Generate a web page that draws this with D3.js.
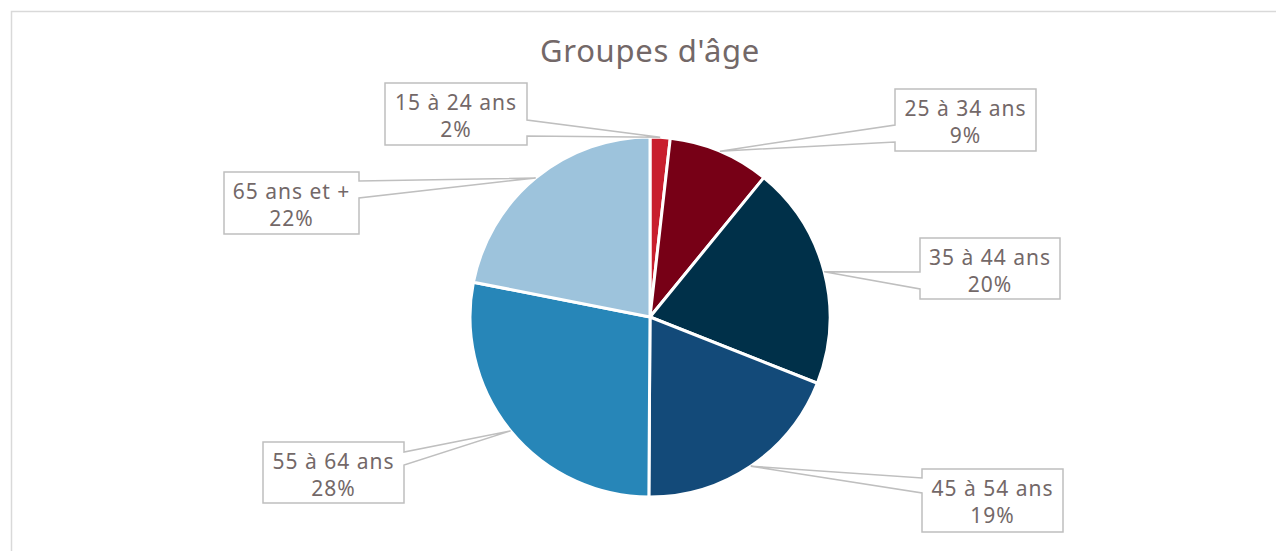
<!DOCTYPE html>
<html>
<head>
<meta charset="utf-8">
<script src="https://cdn.jsdelivr.net/npm/d3@7"></script>
<style>
	body{margin:0;background:#fff;}
	svg{display:block;}
</style>
</head>
<body>
<div id="chart"></div>
<script>
// data
var categories=["15 à 24 ans","25 à 34 ans","35 à 44 ans","45 à 54 ans","55 à 64 ans","65 ans et +"];
var values=[1.8,9.1,20.1,19.1,28,21.9];
var colors=["#c81f2e","#770016","#003049","#134a79","#2786b8","#9dc3dc"];

// label boxes placed by hand, like the original chart: box + side of the pointer
var boxes=[
	{x:385,y:83,w:142,h:62,side:"right",b1:37,b2:53},
	{x:895,y:89,w:141,h:62,side:"left",b1:36,b2:53},
	{x:920,y:238,w:140,h:61,side:"left",b1:34,b2:51},
	{x:922,y:469,w:141,h:63,side:"left",b1:9,b2:24},
	{x:263,y:442,w:141,h:61,side:"right",b1:10,b2:23},
	{x:224,y:172,w:135,h:62,side:"right",b1:9,b2:26}
];

var width=1276,height=551;
var cx=650,cy=317,radius=180;
var textcolor="#736868",linecolor="#bfbfbf";

var svg=d3.select("#chart").append("svg")
	.attr("width",width).attr("height",height);

// chart frame
svg.append("rect").attr("x",11.5).attr("y",11.5)
	.attr("width",width).attr("height",height)
	.attr("fill","none").attr("stroke","#d9d9d9").attr("stroke-width",1.5);

svg.append("text").attr("x",cx).attr("y",62)
	.attr("text-anchor","middle")
	.style("font-family","'Noto Sans', sans-serif").style("font-size","31px")
	.style("letter-spacing","0.7px")
	.attr("fill",textcolor).text("Groupes d'âge");

var pie=d3.pie().sort(null).value(function(d){return d;});
var arcs=pie(values);
var arc=d3.arc().innerRadius(0).outerRadius(radius);

var g=svg.append("g").attr("transform","translate("+cx+","+cy+")");
g.selectAll("path").data(arcs).enter().append("path")
	.attr("d",arc)
	.attr("fill",function(d,i){return colors[i];})
	.attr("stroke","white").attr("stroke-width",3).attr("stroke-linejoin","round");

var total=d3.sum(values);

// callouts: box outline with a wedge going to the slice edge
var labels=svg.append("g").attr("class","labels");
arcs.forEach(function(d,i){
	var b=boxes[i];
	var mid=(d.startAngle+d.endAngle)/2;
	var ax=cx+radius*Math.sin(mid), ay=cy-radius*Math.cos(mid);
	var p;
	if(b.side=="right"){
		p=[[b.x,b.y],[b.x+b.w,b.y],[b.x+b.w,b.y+b.b1],[ax,ay],[b.x+b.w,b.y+b.b2],[b.x+b.w,b.y+b.h],[b.x,b.y+b.h]];
	}else{
		p=[[b.x,b.y],[b.x+b.w,b.y],[b.x+b.w,b.y+b.h],[b.x,b.y+b.h],[b.x,b.y+b.b2],[ax,ay],[b.x,b.y+b.b1]];
	}
	labels.append("path")
		.attr("d","M"+p.map(function(q){return q[0]+","+q[1];}).join("L")+"Z")
		.attr("fill","white").attr("stroke",linecolor).attr("stroke-width",1.5);
	var t=labels.append("text")
		.attr("text-anchor","middle")
		.style("font-family","'Noto Sans', sans-serif").style("font-size","21px")
		.style("letter-spacing","1px")
		.attr("fill",textcolor);
	t.append("tspan").attr("x",b.x+b.w/2).attr("y",b.y+27).text(categories[i]);
	t.append("tspan").attr("x",b.x+b.w/2).attr("y",b.y+54).text(Math.round(values[i]/total*100)+"%");
});
</script>
</body>
</html>
